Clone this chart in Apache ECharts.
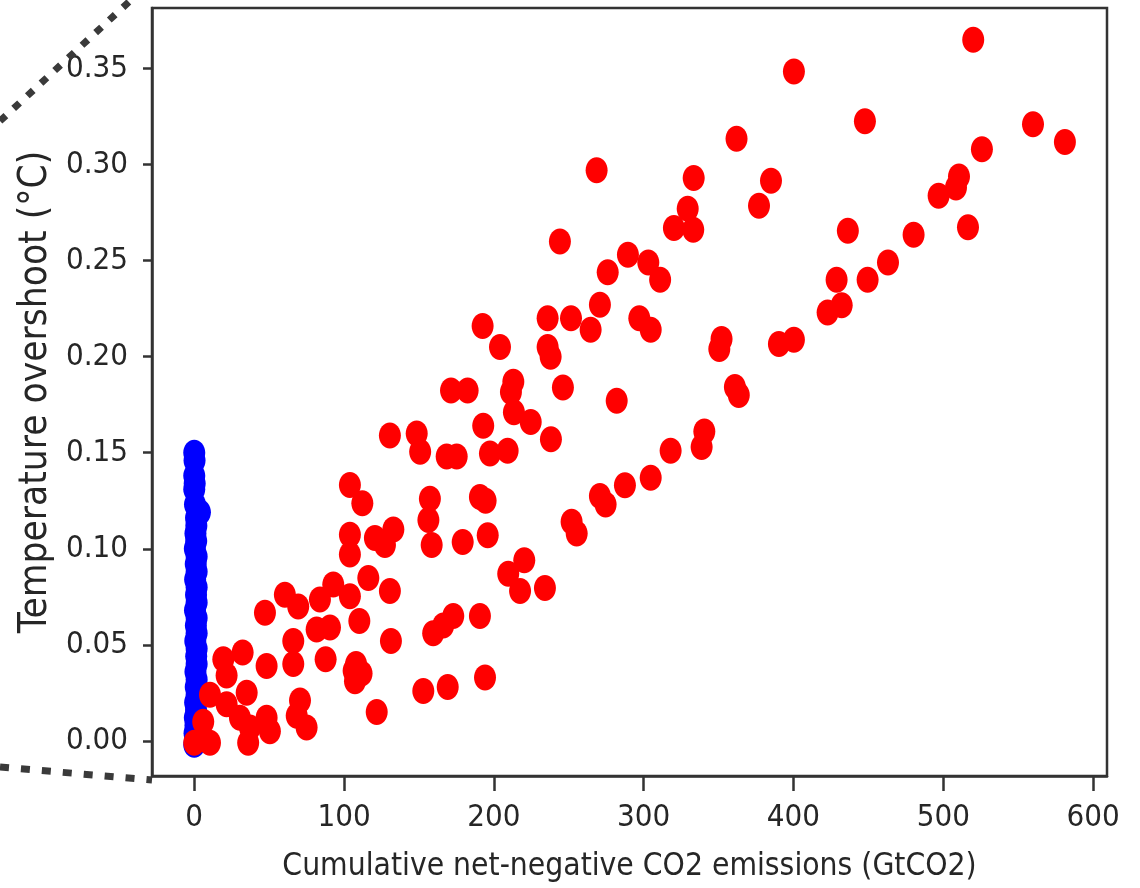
<!DOCTYPE html>
<html>
<head>
<meta charset="utf-8">
<script src="https://cdn.jsdelivr.net/npm/echarts@6/dist/echarts.min.js"></script>
<style>
html,body{margin:0;padding:0;background:#fff;}
#chart{width:1140px;height:888px;}
</style>
</head>
<body>
<div id="chart"></div>
<script>
// ---- data ----
var xTicks = [0, 100, 200, 300, 400, 500, 600];
var yTicks = [0, 0.05, 0.10, 0.15, 0.20, 0.25, 0.30, 0.35];
var xTitle = 'Cumulative net-negative CO2 emissions (GtCO2)';
var yTitle = 'Temperature overshoot (°C)';

// blue series: x ≈ 0 column
var bluePoints = [
  [0.0,0.150],[0.2,0.146],[0.0,0.138],[0.3,0.134],[0.0,0.131],[0.5,0.123],
  [3.8,0.119],[1.2,0.116],[1.4,0.112],[0.8,0.108],[1.3,0.104],[0.4,0.100],
  [1.6,0.096],[1.0,0.092],[1.6,0.088],[0.6,0.084],[1.6,0.080],[1.2,0.076],
  [1.6,0.072],[0.5,0.068],[1.6,0.064],[1.1,0.060],[1.6,0.056],[0.7,0.052],
  [1.6,0.048],[1.3,0.044],[1.6,0.040],[0.8,0.036],[1.6,0.032],[1.0,0.028],
  [1.6,0.024],[0.6,0.020],[1.2,0.016],[0.4,0.012],[0.8,0.008],[0.2,0.004],
  [0.5,0.000],[0.0,-0.002]
];

// red series
var redPoints = [
  [0,-0.001],[10.5,-0.001],[6,0.010],[10.5,0.024],[19.4,0.0425],[21.6,0.034],
  [32.3,0.046],[21.6,0.019],[35,0.025],[30.5,0.012],[37.2,0.007],[36,-0.001],
  [48.3,0.012],[50.5,0.005],[48.3,0.039],[66.1,0.040],[66.1,0.052],[70.6,0.021],
  [68.4,0.013],[75,0.007],[81.7,0.058],[90.6,0.059],[87.7,0.0425],[106.4,0.0365],
  [111.7,0.035],[107.3,0.031],[108,0.040],[121.8,0.015],[131.3,0.052],[47.2,0.0667],
  [60.5,0.076],[69.4,0.070],[83.9,0.0736],[92.8,0.0814],[103.9,0.0753],[110.2,0.0624],
  [116.2,0.0848],[130.6,0.078],[103.9,0.1073],[103.9,0.097],[103.9,0.1332],[112.2,0.1237],
  [120.6,0.1056],[132.9,0.110],[127.3,0.102],
  [130.6,0.159],[148.5,0.160],[150.8,0.1505],[168.5,0.148],[175.2,0.148],[192.9,0.164],
  [197.4,0.1496],[209.2,0.151],[157.3,0.126],[156.3,0.115],[158.5,0.102],[190.7,0.127],
  [194.5,0.125],[179.2,0.1035],[195.9,0.107],[220.3,0.094],[209.6,0.087],[217.5,0.078],
  [234.1,0.0796],[159.5,0.056],[166.2,0.060],[172.9,0.065],[190.7,0.065],[152.9,0.026],
  [169.2,0.028],[194.1,0.033],
  [171.4,0.1824],[182.5,0.1824],[211.4,0.1816],[213,0.187],[246.1,0.184],[213.4,0.171],
  [224.6,0.166],[238.1,0.157],[192.5,0.216],[204.1,0.205],[235.9,0.220],[251.5,0.220],
  [235.9,0.205],[237.9,0.200],[244.1,0.260],[264.6,0.214],[270.8,0.227],[276,0.244],
  [289.5,0.253],[297.1,0.220],[303.1,0.249],[304.7,0.214],[311,0.240],[282,0.177],
  [318,0.151],[340.5,0.161],[338.7,0.153],[304.7,0.137],[287.5,0.133],[270.8,0.1275],
  [274.6,0.123],[251.9,0.114],[255.3,0.108],[320.2,0.267],[329.4,0.277],[333.1,0.266],
  [333.4,0.293],[268.6,0.297],
  [362,0.3135],[400.3,0.3485],[447.7,0.3225],[520,0.365],[559.9,0.321],[581.2,0.3117],
  [525.8,0.308],[510.5,0.2938],[508.5,0.288],[496.9,0.2838],[385,0.2916],[377,0.2785],
  [436.3,0.2655],[480.2,0.2635],[516.5,0.2674],[463.1,0.249],[428.8,0.240],[449.5,0.240],
  [432.2,0.2268],[422.8,0.223],[352,0.2092],[350.5,0.204],[390.3,0.2066],[400.3,0.2088],
  [360.9,0.1842],[363.5,0.180]
];

// ---- chart ----
var ellipse = 'path://M0,-1C0.552,-1,1,-0.552,1,0C1,0.552,0.552,1,0,1C-0.552,1,-1,0.552,-1,0C-1,-0.552,-0.552,-1,0,-1Z';
var labelFont = "'DejaVu Sans Condensed', 'DejaVu Sans', sans-serif";
var ink = '#262626';

var chart = echarts.init(document.getElementById('chart'), null, {renderer: 'canvas'});
chart.setOption({
  animation: false,
  backgroundColor: '#ffffff',
  grid: {
    left: 152, top: 8, right: 33, bottom: 109,
    show: true, borderColor: '#333333', borderWidth: 2.5, backgroundColor: '#ffffff'
  },
  xAxis: {
    type: 'value', min: -28.2, max: 609.3,
    splitLine: {show: false},
    axisLine: {show: true, onZero: false, lineStyle: {color: '#333333', width: 2.5}},
    axisTick: {show: true, length: 15, customValues: xTicks, lineStyle: {color: '#333333', width: 2.5}},
    axisLabel: {
      customValues: xTicks, margin: 26, color: ink,
      fontFamily: labelFont, fontSize: 31,
      formatter: function (v) { return String(v); }
    },
    name: xTitle, nameLocation: 'middle', nameGap: 75,
    nameTextStyle: {color: ink, fontFamily: labelFont, fontSize: 31.5}
  },
  yAxis: {
    type: 'value', min: -0.0183, max: 0.3815,
    splitLine: {show: false},
    axisLine: {show: true, onZero: false, lineStyle: {color: '#333333', width: 2.5}},
    axisTick: {show: true, length: 9, customValues: yTicks, lineStyle: {color: '#333333', width: 2.5}},
    axisLabel: {
      customValues: yTicks, margin: 24, color: ink,
      fontFamily: labelFont, fontSize: 31,
      formatter: function (v) { return v.toFixed(2); }
    },
    name: yTitle, nameLocation: 'middle', nameGap: 94, nameRotate: 90,
    nameTextStyle: {color: ink, fontFamily: labelFont, fontSize: 38.5}
  },
  series: [
    {
      type: 'scatter', data: bluePoints, symbol: ellipse, symbolSize: [22, 26],
      itemStyle: {color: '#0000ff', opacity: 1}, z: 2
    },
    {
      type: 'scatter', data: redPoints, symbol: ellipse, symbolSize: [22, 26],
      itemStyle: {color: '#ff0000', opacity: 1}, z: 3
    }
  ],
  graphic: [
    {
      type: 'line', z: 100,
      shape: {x1: 0, y1: 121, x2: 131, y2: 0},
      style: {stroke: '#3a3a3a', lineWidth: 7, lineDash: [8, 10.6], lineCap: 'butt'}
    },
    {
      type: 'line', z: 100,
      shape: {x1: 0, y1: 767, x2: 152, y2: 780},
      style: {stroke: '#3a3a3a', lineWidth: 7, lineDash: [9, 12], lineCap: 'butt'}
    }
  ]
});
</script>
</body>
</html>
